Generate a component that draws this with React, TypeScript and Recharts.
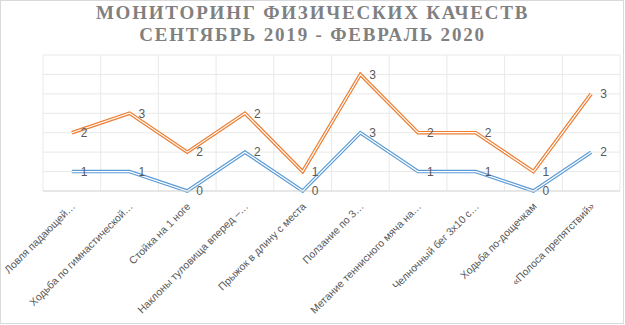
import React from 'react';
import { LineChart, Line, XAxis, YAxis, CartesianGrid, LabelList } from 'recharts';

const categories = [
  'Ловля падающей…',
  'Ходьба по гимнастической…',
  'Стойка на 1 ноге',
  'Наклоны туловища вперед –…',
  'Прыжок в длину с места',
  'Ползание по 3…',
  'Метание теннисного мяча на…',
  'Челночный бег 3х10 с…',
  'Ходьба по-дощечкам',
  '«Полоса препятствий»',
];
const septemberValues = [1, 1, 0, 2, 0, 3, 1, 1, 0, 2];
const februaryValues = [2, 3, 2, 2, 1, 3, 2, 2, 1, 3];
const yTicks = [0, 1, 2, 3, 4, 5, 6, 7];
const titleLines = ['МОНИТОРИНГ ФИЗИЧЕСКИХ КАЧЕСТВ', 'СЕНТЯБРЬ 2019 - ФЕВРАЛЬ 2020'];

const data = categories.map((name, i) => ({
  name,
  sep: septemberValues[i],
  feb: februaryValues[i],
  febStacked: septemberValues[i] + februaryValues[i],
}));

const BLUE = '#5B9BD5';
const ORANGE = '#ED7D31';
const LABEL_COLOR = '#595959';
const FONT = '"Liberation Sans", Arial, sans-serif';

const CategoryTick = (props: any) => {
  const { x, y, payload } = props;
  const ax = x + 4;
  const ay = y + 8;
  return (
    <text
      x={ax}
      y={ay}
      transform={`rotate(-45 ${ax} ${ay})`}
      textAnchor="end"
      fill={LABEL_COLOR}
      fontSize={10.5}
      fontFamily={FONT}
    >
      {payload.value}
    </text>
  );
};

const gridX = ({ offset }: any) =>
  categories.concat(['']).map((_, i) => offset.left + (i * offset.width) / categories.length);

export default function App() {
  return (
    <div style={{ position: 'absolute', left: 0, top: 0, width: 625, height: 325, background: '#fff' }}>
      <div
        style={{
          position: 'absolute',
          left: 0,
          top: 0,
          width: 624,
          height: 324,
          border: '1px solid #d9d9d9',
          boxSizing: 'border-box',
        }}
      />
      <div
        style={{
          position: 'absolute',
          left: 0,
          top: 2,
          width: 625,
          textAlign: 'center',
          fontFamily: '"Liberation Serif", "Times New Roman", serif',
          fontWeight: 'bold',
          fontSize: 19,
          letterSpacing: 1.8,
          lineHeight: '22px',
          color: '#808080',
        }}
      >
        {titleLines.map((t) => (
          <div key={t}>{t}</div>
        ))}
      </div>
      <LineChart
        width={625}
        height={325}
        data={data}
        margin={{ top: 55, right: 5, left: 43, bottom: 0 }}
        style={{ position: 'absolute', left: 0, top: 0 }}
      >
        <CartesianGrid stroke="#e9e9e9" verticalCoordinatesGenerator={gridX} />
        <XAxis
          dataKey="name"
          scale="band"
          interval={0}
          height={134}
          tickLine={false}
          axisLine={{ stroke: '#d9d9d9' }}
          tick={<CategoryTick />}
        />
        <YAxis hide domain={[0, 7]} ticks={yTicks} interval={0} />
        <Line dataKey="sep" stroke={BLUE} strokeWidth={3.6} dot={false} isAnimationActive={false} />
        <Line dataKey="sep" stroke="#ffffff" strokeWidth={1.2} dot={false} isAnimationActive={false}>
          <LabelList dataKey="sep" position="right" offset={9} fill={LABEL_COLOR} fontSize={12} fontFamily={FONT} />
        </Line>
        <Line dataKey="febStacked" stroke={ORANGE} strokeWidth={3.6} dot={false} isAnimationActive={false} />
        <Line dataKey="febStacked" stroke="#ffffff" strokeWidth={1.2} dot={false} isAnimationActive={false}>
          <LabelList dataKey="feb" position="right" offset={9} fill={LABEL_COLOR} fontSize={12} fontFamily={FONT} />
        </Line>
      </LineChart>
    </div>
  );
}
